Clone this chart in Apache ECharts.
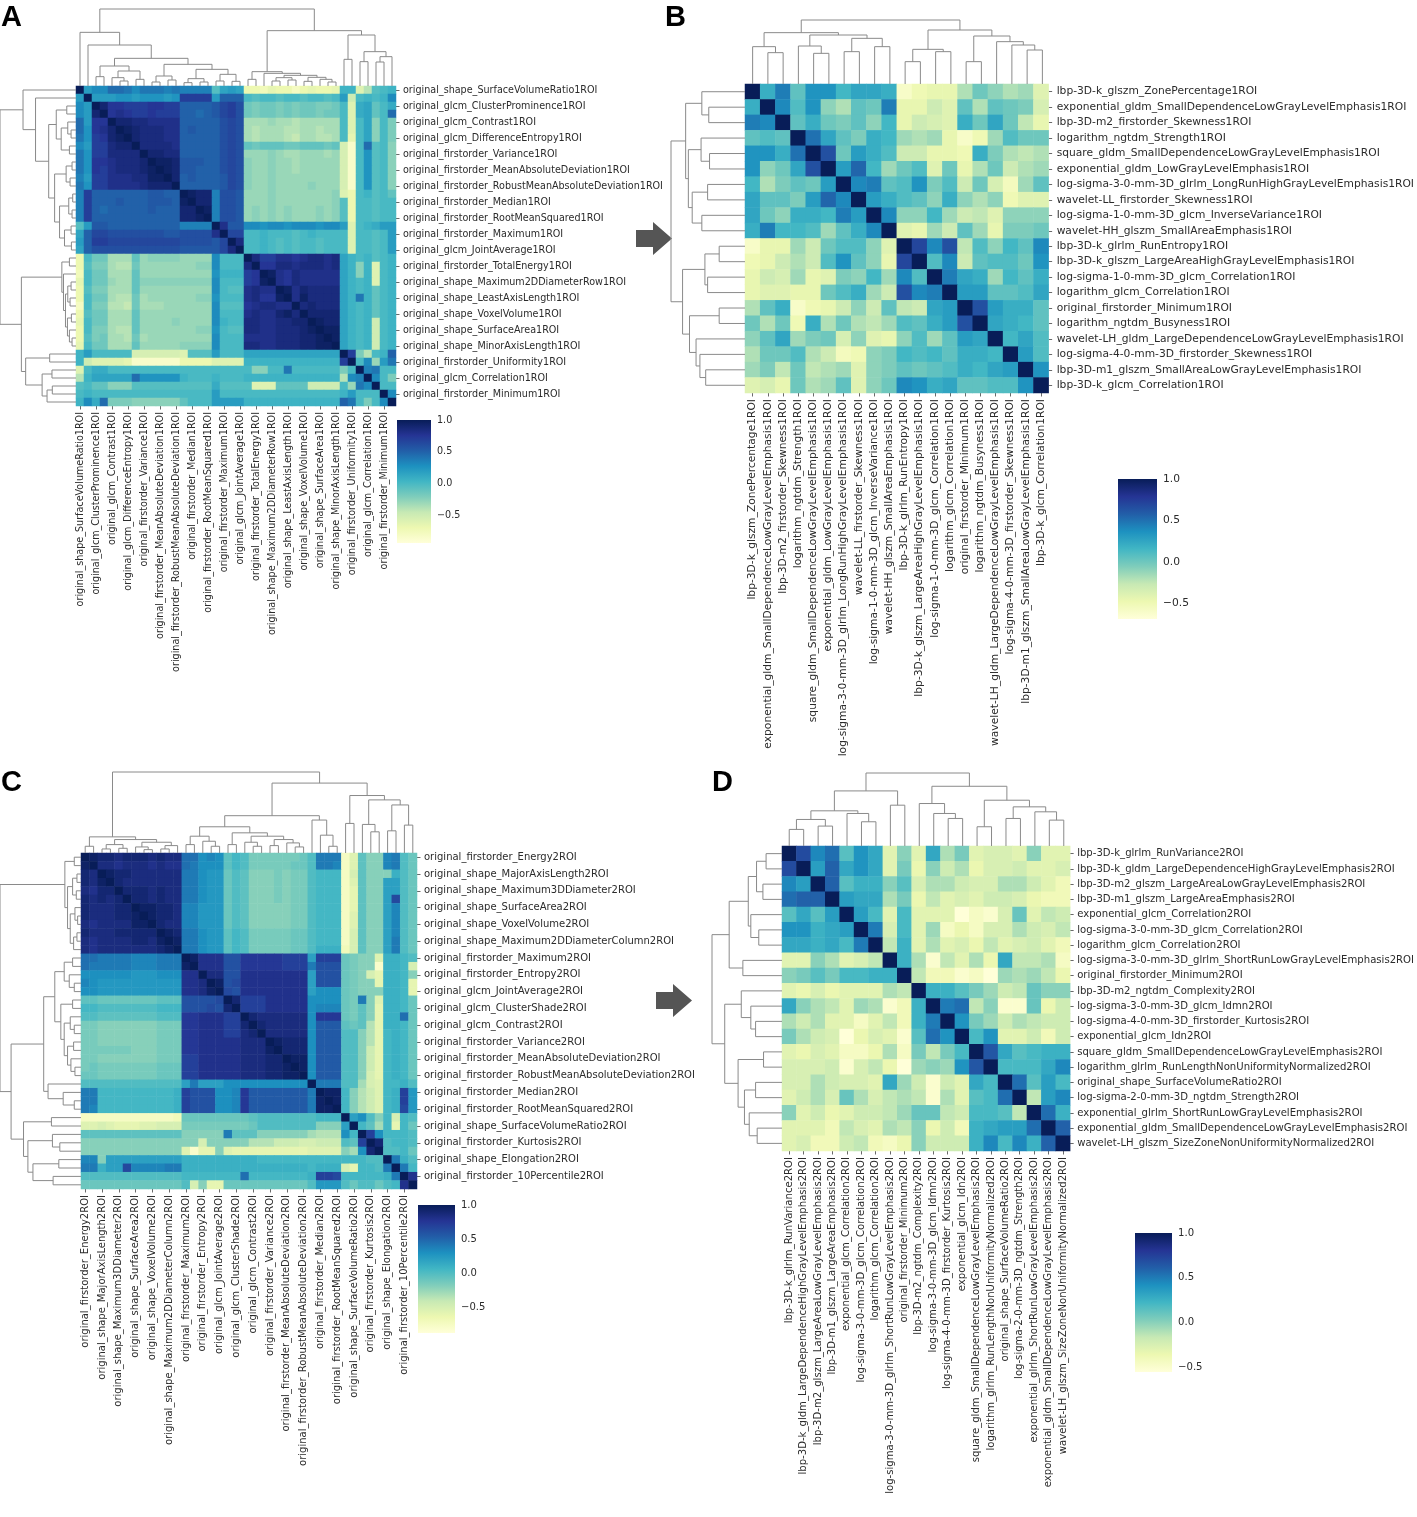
<!DOCTYPE html>
<html><head><meta charset="utf-8">
<script src="https://cdn.jsdelivr.net/npm/echarts/dist/echarts.min.js"></script>
<style>html,body{margin:0;padding:0;background:#fff}#c{width:1417px;height:1517px}</style>
</head><body><div id="c"></div>
<script>
const YLGNBU = ['#ffffd9','#edf8b1','#c7e9b4','#7fcdbb','#41b6c4','#1d91c0','#225ea8','#253494','#081d58'];
const colorbarTicks = [-0.5, 0, 0.5, 1.0];

// ---------- labels (A and C: one label every other row) ----------
const namesA = ['original_shape_SurfaceVolumeRatio1ROI','original_glcm_ClusterProminence1ROI','original_glcm_Contrast1ROI','original_glcm_DifferenceEntropy1ROI','original_firstorder_Variance1ROI','original_firstorder_MeanAbsoluteDeviation1ROI','original_firstorder_RobustMeanAbsoluteDeviation1ROI','original_firstorder_Median1ROI','original_firstorder_RootMeanSquared1ROI','original_firstorder_Maximum1ROI','original_glcm_JointAverage1ROI','original_firstorder_TotalEnergy1ROI','original_shape_Maximum2DDiameterRow1ROI','original_shape_LeastAxisLength1ROI','original_shape_VoxelVolume1ROI','original_shape_SurfaceArea1ROI','original_shape_MinorAxisLength1ROI','original_firstorder_Uniformity1ROI','original_glcm_Correlation1ROI','original_firstorder_Minimum1ROI'];
const namesB = ['lbp-3D-k_glszm_ZonePercentage1ROI','exponential_gldm_SmallDependenceLowGrayLevelEmphasis1ROI','lbp-3D-m2_firstorder_Skewness1ROI','logarithm_ngtdm_Strength1ROI','square_gldm_SmallDependenceLowGrayLevelEmphasis1ROI','exponential_gldm_LowGrayLevelEmphasis1ROI','log-sigma-3-0-mm-3D_glrlm_LongRunHighGrayLevelEmphasis1ROI','wavelet-LL_firstorder_Skewness1ROI','log-sigma-1-0-mm-3D_glcm_InverseVariance1ROI','wavelet-HH_glszm_SmallAreaEmphasis1ROI','lbp-3D-k_glrlm_RunEntropy1ROI','lbp-3D-k_glszm_LargeAreaHighGrayLevelEmphasis1ROI','log-sigma-1-0-mm-3D_glcm_Correlation1ROI','logarithm_glcm_Correlation1ROI','original_firstorder_Minimum1ROI','logarithm_ngtdm_Busyness1ROI','wavelet-LH_gldm_LargeDependenceLowGrayLevelEmphasis1ROI','log-sigma-4-0-mm-3D_firstorder_Skewness1ROI','lbp-3D-m1_glszm_SmallAreaLowGrayLevelEmphasis1ROI','lbp-3D-k_glcm_Correlation1ROI'];
const namesC = ['original_firstorder_Energy2ROI','original_shape_MajorAxisLength2ROI','original_shape_Maximum3DDiameter2ROI','original_shape_SurfaceArea2ROI','original_shape_VoxelVolume2ROI','original_shape_Maximum2DDiameterColumn2ROI','original_firstorder_Maximum2ROI','original_firstorder_Entropy2ROI','original_glcm_JointAverage2ROI','original_glcm_ClusterShade2ROI','original_glcm_Contrast2ROI','original_firstorder_Variance2ROI','original_firstorder_MeanAbsoluteDeviation2ROI','original_firstorder_RobustMeanAbsoluteDeviation2ROI','original_firstorder_Median2ROI','original_firstorder_RootMeanSquared2ROI','original_shape_SurfaceVolumeRatio2ROI','original_firstorder_Kurtosis2ROI','original_shape_Elongation2ROI','original_firstorder_10Percentile2ROI'];
const namesD = ['lbp-3D-k_glrlm_RunVariance2ROI','lbp-3D-k_gldm_LargeDependenceHighGrayLevelEmphasis2ROI','lbp-3D-m2_glszm_LargeAreaLowGrayLevelEmphasis2ROI','lbp-3D-m1_glszm_LargeAreaEmphasis2ROI','exponential_glcm_Correlation2ROI','log-sigma-3-0-mm-3D_glcm_Correlation2ROI','logarithm_glcm_Correlation2ROI','log-sigma-3-0-mm-3D_glrlm_ShortRunLowGrayLevelEmphasis2ROI','original_firstorder_Minimum2ROI','lbp-3D-m2_ngtdm_Complexity2ROI','log-sigma-3-0-mm-3D_glcm_Idmn2ROI','log-sigma-4-0-mm-3D_firstorder_Kurtosis2ROI','exponential_glcm_Idn2ROI','square_gldm_SmallDependenceLowGrayLevelEmphasis2ROI','logarithm_glrlm_RunLengthNonUniformityNormalized2ROI','original_shape_SurfaceVolumeRatio2ROI','log-sigma-2-0-mm-3D_ngtdm_Strength2ROI','exponential_glrlm_ShortRunLowGrayLevelEmphasis2ROI','exponential_gldm_SmallDependenceLowGrayLevelEmphasis2ROI','wavelet-LH_glszm_SizeZoneNonUniformityNormalized2ROI'];

// ---------- correlation values: row i lists columns i..n-1 (upper triangle) ----------
const corrA = [
[1.0,0.2,0.3,0.3,0.45,0.45,0.4,0.3,0.4,0.4,0.4,0.35,0.4,0.35,0.35,0.35,0.35,-0.05,0.15,0.2,0.15,-0.7,-0.7,-0.75,-0.65,-0.7,-0.7,-0.8,-0.7,-0.65,-0.7,-0.7,-0.65,0.05,0.05,-0.6,-0.4,-0.05,0.0,0.05],
[1.0,0.2,0.2,0.2,0.25,0.25,0.2,0.25,0.25,0.25,0.2,0.25,0.7,0.7,0.7,0.7,0.2,0.5,0.5,0.5,0.0,-0.05,0.0,0.0,-0.05,0.0,0.0,-0.05,0.0,0.0,-0.05,0.0,0.2,-0.5,0.0,0.05,0.0,0.05,0.3],
[1.0,0.9,0.75,0.75,0.7,0.7,0.7,0.75,0.75,0.7,0.7,0.5,0.5,0.5,0.5,0.55,0.65,0.7,0.6,-0.15,-0.2,-0.15,-0.15,-0.2,-0.15,-0.2,-0.15,-0.15,-0.2,-0.2,-0.15,0.0,-0.6,0.1,0.15,-0.1,0.0,0.1],
[1.0,0.75,0.8,0.75,0.7,0.7,0.75,0.7,0.7,0.7,0.5,0.5,0.45,0.5,0.55,0.65,0.7,0.6,-0.15,-0.2,-0.15,-0.15,-0.2,-0.15,-0.2,-0.15,-0.15,-0.2,-0.15,-0.15,0.0,-0.6,0.1,0.15,-0.1,0.0,0.45],
[1.0,0.9,0.9,0.85,0.85,0.8,0.8,0.8,0.8,0.5,0.5,0.5,0.5,0.5,0.6,0.65,0.6,-0.35,-0.35,-0.35,-0.3,-0.35,-0.35,-0.4,-0.35,-0.35,-0.35,-0.35,-0.35,0.0,-0.6,0.0,0.15,-0.25,0.0,-0.2],
[1.0,0.95,0.9,0.85,0.85,0.85,0.8,0.8,0.5,0.55,0.5,0.5,0.5,0.6,0.65,0.6,-0.35,-0.4,-0.35,-0.35,-0.35,-0.4,-0.4,-0.35,-0.35,-0.4,-0.35,-0.35,0.0,-0.6,0.0,0.15,-0.25,0.0,-0.2],
[1.0,0.9,0.85,0.85,0.85,0.8,0.8,0.5,0.5,0.5,0.5,0.5,0.6,0.65,0.6,-0.35,-0.4,-0.35,-0.35,-0.35,-0.4,-0.45,-0.35,-0.35,-0.4,-0.4,-0.35,0.0,-0.65,0.0,0.15,-0.25,0.0,-0.2],
[1.0,0.85,0.85,0.85,0.85,0.8,0.5,0.5,0.5,0.5,0.5,0.6,0.65,0.6,-0.1,-0.15,-0.1,-0.1,-0.1,-0.15,-0.15,-0.1,-0.1,-0.1,-0.15,-0.1,-0.55,-0.85,0.0,0.45,-0.05,0.0,-0.25],
[1.0,0.9,0.9,0.85,0.85,0.5,0.5,0.5,0.5,0.5,0.6,0.65,0.6,-0.3,-0.3,-0.3,-0.25,-0.3,-0.35,-0.35,-0.3,-0.3,-0.3,-0.35,-0.3,-0.55,-0.85,0.0,0.25,-0.05,0.0,-0.25],
[1.0,0.95,0.95,0.9,0.55,0.55,0.55,0.5,0.5,0.6,0.65,0.6,-0.25,-0.3,-0.3,-0.25,-0.3,-0.3,-0.35,-0.3,-0.3,-0.3,-0.3,-0.3,-0.55,-0.85,0.0,0.25,-0.05,0.0,-0.25],
[1.0,0.95,0.9,0.55,0.55,0.5,0.5,0.5,0.6,0.65,0.6,-0.25,-0.3,-0.3,-0.25,-0.3,-0.3,-0.35,-0.3,-0.3,-0.3,-0.3,-0.3,-0.55,-0.85,0.0,0.25,-0.05,0.0,-0.25],
[1.0,0.9,0.5,0.55,0.5,0.5,0.5,0.55,0.65,0.6,-0.25,-0.3,-0.3,-0.25,-0.3,-0.3,-0.3,-0.3,-0.3,-0.3,-0.3,-0.3,-0.55,-0.85,0.0,0.25,-0.05,0.0,-0.25],
[1.0,0.5,0.5,0.5,0.5,0.5,0.55,0.65,0.6,-0.25,-0.3,-0.3,-0.25,-0.3,-0.3,-0.3,-0.3,-0.25,-0.3,-0.3,-0.3,-0.55,-0.85,0.0,0.25,-0.05,0.0,-0.25],
[1.0,0.95,0.9,0.9,0.35,0.6,0.6,0.55,-0.3,-0.3,-0.3,-0.25,-0.3,-0.3,-0.3,-0.3,-0.3,-0.3,-0.3,-0.25,-0.6,-0.7,0.0,0.05,-0.05,0.0,-0.1],
[1.0,0.9,0.9,0.35,0.6,0.6,0.55,-0.3,-0.3,-0.3,-0.25,-0.3,-0.3,-0.3,-0.3,-0.3,-0.3,-0.3,-0.25,-0.05,-0.7,0.0,0.0,-0.05,0.0,0.0],
[1.0,0.95,0.35,0.6,0.6,0.55,-0.3,-0.25,-0.3,-0.25,-0.3,-0.25,-0.3,-0.3,-0.3,-0.25,-0.3,-0.25,-0.05,-0.7,0.0,0.0,-0.05,0.0,0.0],
[1.0,0.35,0.6,0.6,0.55,-0.3,-0.25,-0.3,-0.25,-0.3,-0.25,-0.3,-0.3,-0.3,-0.25,-0.3,-0.25,-0.05,-0.7,0.0,0.0,-0.05,0.0,0.0],
[1.0,0.8,0.55,0.55,0.3,0.3,0.25,0.3,0.3,0.25,0.3,0.3,0.3,0.25,0.3,0.3,0.2,-0.6,0.0,0.05,0.1,0.2,0.2],
[1.0,0.65,0.65,0.0,0.0,0.05,0.0,0.0,0.0,-0.05,0.0,0.05,0.0,0.0,0.0,0.0,-0.6,0.0,0.0,-0.05,0.0,0.2],
[1.0,0.85,0.0,0.0,0.05,0.0,-0.05,0.0,-0.05,0.0,0.0,-0.05,0.0,0.0,0.0,-0.6,0.0,0.0,-0.05,0.0,0.2],
[1.0,0.0,0.0,0.05,0.0,-0.05,0.0,-0.05,0.0,0.0,-0.05,0.0,0.0,0.0,-0.6,0.0,0.0,-0.05,0.0,0.2],
[1.0,0.85,0.7,0.7,0.8,0.8,0.75,0.8,0.85,0.85,0.8,0.85,0.15,0.05,0.0,0.05,-0.05,0.0,0.05],
[1.0,0.75,0.75,0.85,0.85,0.8,0.85,0.85,0.85,0.8,0.85,0.15,0.05,-0.25,0.05,-0.6,0.0,0.05],
[1.0,0.95,0.8,0.75,0.85,0.8,0.8,0.8,0.8,0.8,0.15,0.05,-0.25,0.05,-0.6,0.0,0.05],
[1.0,0.8,0.75,0.85,0.8,0.8,0.8,0.8,0.8,0.15,0.05,0.0,0.05,-0.6,0.0,0.05],
[1.0,0.95,0.8,0.9,0.85,0.85,0.85,0.85,0.15,0.05,0.0,0.05,-0.1,0.0,0.05],
[1.0,0.8,0.95,0.85,0.85,0.85,0.85,0.15,0.05,0.4,0.05,-0.1,0.0,0.05],
[1.0,0.85,0.9,0.85,0.85,0.85,0.15,0.05,0.0,0.05,-0.1,0.0,0.05],
[1.0,0.9,0.9,0.9,0.9,0.15,0.05,0.0,0.05,-0.1,0.0,0.05],
[1.0,0.95,0.9,0.9,0.15,0.05,0.0,0.05,-0.5,0.0,0.05],
[1.0,0.95,0.95,0.15,0.05,0.0,0.05,-0.5,0.0,0.05],
[1.0,0.95,0.15,0.05,0.0,0.05,-0.5,0.0,0.05],
[1.0,0.15,0.05,0.0,0.05,-0.5,0.0,0.05],
[1.0,0.7,-0.2,-0.4,0.0,0.05,0.5],
[1.0,0.0,0.3,-0.3,0.2,0.4],
[1.0,0.35,0.4,0.0,0.0],
[1.0,0.3,0.0,-0.2],
[1.0,0.0,0.0],
[1.0,0.3],
[1.0]
];
const corrB = [
[1,0.2,0.45,0.05,0.35,0.35,0.15,0.25,0.25,0.2,-0.6,-0.5,-0.45,-0.45,-0.2,0.0,-0.1,-0.2,-0.15,-0.4],
[1,0.4,0.1,0.35,-0.1,-0.2,0.05,0.0,0.45,-0.45,-0.45,-0.3,-0.4,0.05,-0.2,0.05,0.0,-0.05,-0.35],
[1,0.05,0.2,0.0,-0.05,0.05,-0.1,0.15,-0.45,-0.3,-0.35,-0.4,0.2,0.0,0.25,0.0,-0.25,-0.45],
[1,0.5,0.25,0.05,-0.05,0.2,0.15,-0.15,-0.2,-0.15,-0.45,-0.6,-0.5,-0.15,0.1,0.0,0.0],
[1,0.65,0.0,0.3,0.2,0.1,-0.3,-0.3,-0.45,-0.45,-0.5,0.2,-0.05,-0.2,-0.25,-0.2],
[1,0.3,0.55,0.15,-0.15,0.0,0.1,-0.4,0.0,-0.45,-0.2,0.0,-0.3,-0.2,-0.15],
[1,0.4,0.45,0.05,0.1,0.35,-0.05,0.1,-0.3,0.0,-0.35,-0.55,-0.15,0.05],
[1,0.3,0.2,0.1,0.05,-0.1,0.2,-0.1,-0.2,-0.1,-0.5,-0.4,-0.4],
[1,0.4,-0.1,-0.1,0.15,-0.15,-0.3,-0.25,-0.4,-0.1,-0.1,-0.1],
[1,-0.4,-0.45,-0.15,-0.3,0.05,-0.15,-0.45,-0.05,-0.05,0.0],
[1,0.7,0.4,0.65,-0.25,0.1,-0.1,0.15,0.05,0.4],
[1,0.1,0.4,-0.3,0.05,0.1,0.1,0.0,0.35],
[1,0.45,0.25,0.2,-0.15,0.15,0.05,0.2],
[1,0.3,0.3,0.05,0.05,0.1,0.25],
[1,0.65,0.3,0.2,0.2,0.05],
[1,0.25,0.2,0.15,0.05],
[1,0.15,0.25,0.1],
[1,0.3,0.1],
[1,0.35],
[1]
];
const corrC = [
[1.0,0.95,0.9,0.9,0.85,0.9,0.9,0.9,0.85,0.9,0.85,0.85,0.45,0.45,0.3,0.35,0.3,-0.05,0.05,0.0,-0.15,-0.15,-0.15,-0.15,-0.15,-0.15,-0.1,0.0,0.4,0.4,0.4,-0.75,-0.55,-0.05,-0.2,-0.2,0.35,0.4,0.0,-0.1],
[1.0,0.85,0.85,0.8,0.85,0.85,0.85,0.8,0.85,0.8,0.8,0.45,0.4,0.3,0.3,0.3,-0.05,0.05,0.0,-0.15,-0.15,-0.15,-0.15,-0.15,-0.1,-0.1,0.0,0.4,0.4,0.35,-0.75,-0.55,-0.05,-0.2,-0.2,0.35,0.4,0.0,-0.1],
[1.0,0.95,0.9,0.9,0.85,0.85,0.85,0.85,0.85,0.85,0.4,0.4,0.3,0.25,0.25,-0.1,0.0,-0.05,-0.2,-0.2,-0.2,-0.15,-0.2,-0.15,-0.15,0.0,0.05,0.05,0.05,-0.75,-0.5,-0.05,-0.2,-0.2,-0.2,0.1,0.0,-0.1],
[1.0,0.9,0.85,0.85,0.85,0.85,0.85,0.85,0.85,0.4,0.4,0.3,0.25,0.25,-0.1,0.0,-0.05,-0.2,-0.2,-0.2,-0.15,-0.2,-0.15,-0.15,0.0,0.05,0.05,0.05,-0.75,-0.55,-0.05,-0.2,-0.2,0.2,0.2,0.0,-0.1],
[1.0,0.9,0.9,0.9,0.85,0.9,0.85,0.85,0.4,0.4,0.3,0.25,0.25,-0.1,0.0,-0.05,-0.2,-0.2,-0.2,-0.15,-0.2,-0.15,-0.15,0.0,0.05,0.05,0.05,-0.75,-0.6,-0.05,-0.2,-0.2,0.2,0.2,0.0,-0.1],
[1.0,0.9,0.9,0.85,0.9,0.85,0.85,0.4,0.4,0.3,0.25,0.25,-0.1,0.0,-0.05,-0.2,-0.2,-0.2,-0.15,-0.2,-0.15,-0.15,0.0,0.05,0.05,0.05,-0.75,-0.6,-0.05,-0.2,-0.2,0.2,0.65,0.0,-0.1],
[1.0,0.95,0.95,0.9,0.9,0.85,0.35,0.35,0.25,0.25,0.25,-0.1,0.0,-0.05,-0.2,-0.2,-0.2,-0.2,-0.2,-0.15,-0.15,0.0,0.05,0.05,0.05,-0.75,-0.6,-0.05,-0.2,-0.2,0.2,0.35,0.0,-0.1],
[1.0,0.95,0.9,0.9,0.85,0.35,0.35,0.25,0.25,0.25,-0.1,0.0,-0.05,-0.2,-0.2,-0.2,-0.2,-0.2,-0.15,-0.15,0.0,0.05,0.05,0.05,-0.75,-0.55,-0.05,-0.2,-0.2,0.2,0.35,0.0,-0.1],
[1.0,0.9,0.85,0.85,0.35,0.35,0.25,0.25,0.25,-0.1,0.0,-0.05,-0.2,-0.2,-0.2,-0.2,-0.2,-0.15,-0.15,0.0,0.05,0.05,0.05,-0.75,-0.55,-0.05,-0.2,-0.2,0.2,0.35,0.0,-0.1],
[1.0,0.95,0.9,0.4,0.4,0.3,0.25,0.25,-0.05,0.05,0.0,-0.15,-0.15,-0.15,-0.15,-0.15,-0.1,-0.1,0.0,0.05,0.05,0.05,-0.75,-0.5,-0.05,-0.2,-0.2,0.2,0.35,0.0,-0.1],
[1.0,0.95,0.4,0.4,0.3,0.25,0.25,-0.05,0.05,0.0,-0.15,-0.15,-0.15,-0.15,-0.15,-0.1,-0.1,0.0,0.05,0.05,0.05,-0.75,-0.5,-0.05,-0.2,-0.2,0.2,0.4,0.0,-0.1],
[1.0,0.4,0.4,0.3,0.25,0.25,-0.05,0.05,0.0,-0.15,-0.15,-0.15,-0.15,-0.15,-0.1,-0.1,0.0,0.1,0.1,0.1,-0.7,-0.5,-0.05,-0.2,-0.2,0.2,0.4,0.0,-0.1],
[1.0,0.95,0.8,0.8,0.8,0.6,0.6,0.75,0.75,0.75,0.75,0.75,0.7,0.7,0.7,0.2,0.7,0.7,0.7,-0.1,-0.15,-0.2,-0.2,-0.55,0.1,0.1,0.05,0.0],
[1.0,0.8,0.8,0.8,0.6,0.6,0.75,0.75,0.75,0.75,0.75,0.7,0.7,0.7,0.4,0.6,0.6,0.6,-0.1,-0.15,-0.2,-0.2,-0.8,0.1,0.1,0.05,-0.5],
[1.0,0.85,0.85,0.6,0.6,0.8,0.8,0.8,0.8,0.8,0.8,0.8,0.8,0.2,0.6,0.6,0.6,-0.1,-0.15,-0.2,-0.5,-0.6,0.1,0.1,0.05,-0.2],
[1.0,0.95,0.6,0.65,0.8,0.8,0.8,0.8,0.8,0.8,0.8,0.8,0.2,0.6,0.6,0.6,-0.1,-0.15,-0.2,-0.2,-0.6,0.1,0.1,0.05,-0.6],
[1.0,0.65,0.6,0.8,0.8,0.8,0.8,0.8,0.8,0.8,0.8,0.2,0.3,0.3,0.3,-0.1,-0.15,-0.2,-0.2,-0.2,0.1,0.1,0.05,-0.6],
[1.0,0.9,0.7,0.7,0.7,0.8,0.8,0.8,0.8,0.8,0.3,0.3,0.3,0.3,-0.1,-0.15,0.4,-0.2,-0.55,0.1,0.1,0.05,-0.1],
[1.0,0.7,0.7,0.7,0.8,0.8,0.8,0.8,0.8,0.3,0.35,0.35,0.35,-0.1,-0.15,-0.05,-0.2,-0.6,0.1,0.1,0.05,-0.1],
[1.0,0.9,0.85,0.85,0.85,0.85,0.85,0.85,0.3,0.75,0.75,0.75,-0.1,-0.15,-0.05,-0.2,-0.6,0.1,0.1,0.45,-0.1],
[1.0,0.9,0.85,0.85,0.85,0.85,0.85,0.3,0.55,0.55,0.55,-0.05,-0.1,-0.05,-0.35,-0.6,0.1,0.1,0.05,-0.1],
[1.0,0.85,0.85,0.85,0.85,0.85,0.3,0.55,0.55,0.55,0.0,0.0,-0.2,-0.35,-0.6,0.05,0.1,0.05,-0.1],
[1.0,0.95,0.9,0.9,0.9,0.3,0.55,0.55,0.55,0.0,0.0,-0.2,-0.35,-0.6,0.05,0.1,0.05,-0.1],
[1.0,0.9,0.9,0.9,0.3,0.55,0.55,0.55,0.0,0.0,-0.2,-0.45,-0.6,0.05,0.1,0.05,-0.1],
[1.0,0.95,0.95,0.3,0.55,0.55,0.55,0.0,0.0,-0.2,-0.45,-0.6,0.05,0.1,0.05,-0.1],
[1.0,0.95,0.3,0.55,0.55,0.55,0.0,0.0,-0.2,-0.45,-0.6,0.05,0.1,0.05,-0.1],
[1.0,0.3,0.55,0.55,0.55,0.0,0.0,-0.2,-0.5,-0.6,0.05,0.1,0.05,-0.1],
[1.0,0.4,0.4,0.4,0.0,0.0,-0.3,-0.5,-0.55,0.05,0.05,0.1,0.0],
[1.0,0.95,0.95,0.05,-0.2,-0.35,-0.45,-0.55,0.05,0.1,0.7,0.25],
[1.0,0.95,0.05,-0.2,-0.35,-0.45,-0.55,0.05,0.1,0.7,0.25],
[1.0,0.05,-0.2,-0.35,-0.45,-0.55,0.05,0.1,0.65,0.25],
[1.0,0.2,0.3,0.0,-0.2,0.05,-0.5,0.05,0.0],
[1.0,0.05,-0.05,-0.3,0.05,-0.6,0.05,-0.1],
[1.0,0.7,0.3,0.05,0.05,0.05,0.0],
[1.0,0.9,0.0,0.05,0.05,0.0],
[1.0,0.0,0.0,0.05,-0.1],
[1.0,0.4,0.1,0.0],
[1.0,0.4,0.05],
[1.0,0.8],
[1.0]
];
const corrD = [
[1,0.7,0.45,0.55,0.15,0.4,0.3,-0.3,0.0,-0.3,0.3,-0.1,0.05,-0.3,-0.25,-0.25,-0.3,0.0,-0.3,-0.3],
[1,0.35,0.6,0.3,0.4,0.3,-0.3,0.05,-0.35,0.0,-0.2,-0.1,-0.35,-0.25,-0.25,-0.2,-0.3,-0.3,-0.25],
[1,0.6,0.15,0.25,0.25,0.0,0.15,-0.25,-0.1,-0.1,-0.2,-0.25,-0.25,-0.1,-0.1,-0.2,-0.3,-0.4],
[1,0.35,0.3,0.3,-0.1,0.05,-0.35,-0.15,-0.3,-0.25,-0.3,-0.2,-0.2,-0.25,-0.35,-0.4,-0.4],
[1,0.35,0.2,-0.3,0.2,-0.3,-0.3,-0.3,-0.55,-0.45,-0.5,-0.25,0.1,-0.3,-0.15,-0.2],
[1,0.5,-0.25,0.2,-0.3,-0.05,-0.45,-0.35,-0.45,-0.25,-0.25,-0.1,-0.2,-0.25,-0.15],
[1,-0.15,0.25,-0.3,-0.1,-0.3,-0.25,-0.35,-0.15,-0.3,-0.25,-0.2,-0.3,-0.4],
[1,0.25,-0.1,-0.5,-0.15,-0.3,-0.1,-0.35,0.3,-0.15,-0.15,-0.1,-0.45],
[1,-0.15,-0.4,-0.4,-0.5,-0.45,-0.55,-0.05,-0.1,-0.05,-0.15,-0.35],
[1,0.25,0.25,0.15,0.05,-0.05,-0.2,-0.15,0.1,0.0,0.0],
[1,0.5,0.55,-0.15,0.0,-0.5,-0.5,0.1,-0.35,-0.2],
[1,0.4,0.05,-0.05,-0.2,-0.1,-0.15,-0.2,-0.2],
[1,0.2,0.4,-0.3,-0.3,-0.2,-0.4,-0.2],
[1,0.65,0.3,0.15,0.2,0.25,0.25],
[1,0.2,0.2,0.2,0.3,0.45],
[1,0.55,0.15,0.35,0.2],
[1,-0.15,0.35,0.45],
[1,0.55,0.25],
[1,0.6],
[1]
];

// ---------- dendrogram trees: [mergeHeight, left, right], leaves = row index ----------
const treeA = [231,
  [161, 0, [123, 1, [83,
    [60, [28, 2, 3], [45, [25, 4, [15, 5, 6]], [20, 7, 8]]],
    [65, [30, [12, 9, 10], [18, 11, 12]], [50, [22, [10, 13, 14], [12, 15, 16]], [35, [15, 17, 18], [14, 19, 20]]]]]]],
  [166,
    [43, [20, 21, 22], [38, 23, [32, [25, [15, 24, 25], [18, 26, 27]], [26, [14, 28, 29], [20, 30, [12, 31, 32]]]]]],
    [153, [80, 33, 34], [103, [73, 35, 36], [88, [72, 37, 38], 39]]]]];
const treeB = [192,
  [154, [112, 0, [94, 1, 2]], [147, [114, 3, [92, 4, 5]], [137, [97, 6, 7], [112, 8, 9]]]],
  [162, [104, [67, 10, 11], [97, 12, 13]], [144, [67, 14, 15], [127, 16, [117, 17, [102, 18, 19]]]]]];
const treeC = [241,
  [48, [20, 0, 1], [40, [25, [12, 2, 3], [14, 4, 5]], [32, [18, 6, [10, 7, 8]], [22, [12, 9, 10], 11]]]],
  [208,
    [111,
      [78, [50, [25, 12, 13], [35, 14, [20, 15, 16]]], [60, [25, 17, 18], [50, [32, 19, [20, 20, 21]], [40, [22, 22, 23], [30, 24, [18, 25, 26]]]]]],
      [98, 27, [53, 28, [20, 29, 30]]]],
    [171, [88, 31, 32], [158, [85, 33, [63, 34, 35]], [143, [66, 36, 37], [83, 38, 39]]]]]];
const treeD = [220,
  [166, [106, [80, [50, 0, 1], [60, 2, 3]], [98, 4, [73, 5, 6]]], [123, 7, 8]],
  [180, [128, 9, [98, 10, [83, 11, 12]]], [138, [58, 13, 14], [118, [83, 15, 16], [103, 17, [78, 18, 19]]]]]];

// ---------- layout (pixels) ----------
const panels = [
  {letter:'A', lx:1, ly:3, names:namesA, step:2, corr:corrA, tree:treeA, vmin:-0.94, font:9.6, ym:7,
   heat:[76,86,320,320], top:[76,9,320,77], side:[-1,86,77,320], bar:[397,420,34,123]},
  {letter:'B', lx:665, ly:3, names:namesB, step:1, corr:corrB, tree:treeB, vmin:-0.69, font:10.7, ym:8,
   heat:[745,84,305,309], top:[745,20,305,64], side:[671,84,74,309], bar:[1118,479,39,140]},
  {letter:'C', lx:1, ly:768, names:namesC, step:2, corr:corrC, tree:treeC, vmin:-0.88, font:10, ym:7,
   heat:[81,853,336,336], top:[81,772,336,81], side:[0,853,81,336], bar:[418,1205,37,128]},
  {letter:'D', lx:712, ly:768, names:namesD, step:1, corr:corrD, tree:treeD, vmin:-0.555, font:10.1, ym:7,
   heat:[782,846,289,305], top:[782,773,289,73], side:[712,846,70,305], bar:[1135,1233,37,139]}
];

function fullMatrix(upper){
  const n = upper.length, M = [];
  for (let i = 0; i < n; i++) M.push(new Array(n));
  for (let i = 0; i < n; i++) for (let j = i; j < n; j++) { M[i][j] = upper[i][j - i]; M[j][i] = upper[i][j - i]; }
  return M;
}
function treeLinks(tree){
  const out = [];
  (function walk(node){
    if (typeof node === 'number') return {x: node + 0.5, h: 0};
    const a = walk(node[1]), b = walk(node[2]);
    out.push([a.x, a.h, b.x, b.h, node[0]]);
    return {x: (a.x + b.x) / 2, h: node[0]};
  })(tree);
  return out;
}
function dendroRender(orient){
  return function(params, api){
    const x1 = api.value(0), h1 = api.value(1), x2 = api.value(2), h2 = api.value(3), h = api.value(4);
    const c = orient === 'top' ? (p, q) => api.coord([p, q]) : (p, q) => api.coord([q, p]);
    return {type:'polyline', silent:true,
      shape:{points:[c(x1, h1), c(x1, h), c(x2, h), c(x2, h2)]},
      style:{stroke:'#8a8a8a', fill:null, lineWidth:1}};
  };
}
const FONT = 'DejaVu Sans', TXT = '#2b2b2b';
const grid = [], xAxis = [], yAxis = [], series = [], visualMap = [], graphic = [];
function addGrid(r){ grid.push({left:r[0], top:r[1], width:r[2], height:r[3], show:false}); return grid.length - 1; }

panels.forEach(p => {
  const n = p.corr.length, M = fullMatrix(p.corr);
  const cats = Array.from({length:n}, (_, i) => String(i));
  const lab = v => { const i = +v; return i % p.step === 0 ? p.names[i / p.step] : ''; };
  let g = addGrid(p.heat);
  const common = {type:'category', gridIndex:g, data:cats, axisLine:{show:false}, splitLine:{show:false},
    axisTick:{show:true, alignWithLabel:true, interval:p.step - 1, length:3.5, lineStyle:{color:'#444', width:0.8}}};
  xAxis.push(Object.assign({}, common, {position:'bottom',
    axisLabel:{interval:p.step - 1, rotate:90, fontSize:p.font, fontFamily:FONT, color:TXT, margin:6, formatter:lab}}));
  yAxis.push(Object.assign({}, common, {position:'right', inverse:true,
    axisLabel:{interval:p.step - 1, fontSize:p.font, fontFamily:FONT, color:TXT, margin:p.ym, formatter:lab}}));
  const data = [];
  for (let i = 0; i < n; i++) for (let j = 0; j < n; j++) data.push([j, i, M[i][j]]);
  visualMap.push({type:'continuous', show:false, min:p.vmin, max:1, dimension:2, seriesIndex:series.length, inRange:{color:YLGNBU}});
  series.push({type:'heatmap', xAxisIndex:g, yAxisIndex:g, data:data, silent:true, emphasis:{disabled:true}, itemStyle:{borderWidth:0}, progressive:0});
  const links = treeLinks(p.tree), H = p.tree[0];
  g = addGrid(p.top);
  xAxis.push({type:'value', gridIndex:g, min:0, max:n, show:false});
  yAxis.push({type:'value', gridIndex:g, min:0, max:H, show:false});
  series.push({type:'custom', xAxisIndex:g, yAxisIndex:g, data:links, renderItem:dendroRender('top'), silent:true, clip:false});
  g = addGrid(p.side);
  xAxis.push({type:'value', gridIndex:g, min:0, max:H, inverse:true, show:false});
  yAxis.push({type:'value', gridIndex:g, min:0, max:n, inverse:true, show:false});
  series.push({type:'custom', xAxisIndex:g, yAxisIndex:g, data:links, renderItem:dendroRender('left'), silent:true, clip:false});
  g = addGrid(p.bar);
  xAxis.push({type:'value', gridIndex:g, min:0, max:1, show:false});
  yAxis.push({type:'value', gridIndex:g, min:p.vmin, max:1, position:'right', splitLine:{show:false}, axisLine:{show:false},
    axisTick:{show:true, length:3.5, customValues:colorbarTicks, lineStyle:{color:'#444', width:0.8}},
    axisLabel:{show:true, customValues:colorbarTicks, fontSize:p.font, fontFamily:FONT, color:TXT, margin:6,
      formatter: v => (v < 0 ? '\u2212' : '') + Math.abs(v).toFixed(1)}});
  graphic.push({type:'rect', silent:true, z:1,
    shape:{x:p.bar[0], y:p.bar[1], width:p.bar[2], height:p.bar[3]},
    style:{fill:new echarts.graphic.LinearGradient(0, 1, 0, 0, YLGNBU.map((c, i) => ({offset:i / (YLGNBU.length - 1), color:c})))}});
  graphic.push({type:'text', left:p.lx, top:p.ly, silent:true,
    style:{text:p.letter, font:'bold 29px "Liberation Sans", Arial, sans-serif', fill:'#000'}});
});
graphic.push({type:'polygon', silent:true, shape:{points:[[636,230],[653,230],[653,222],[672,238.5],[653,255],[653,247],[636,247]]}, style:{fill:'#555555'}});
graphic.push({type:'polygon', silent:true, shape:{points:[[656,992],[673,992],[673,984],[692,1000.5],[673,1017],[673,1009],[656,1009]]}, style:{fill:'#555555'}});

const chart = echarts.init(document.getElementById('c'), null, {renderer:'canvas'});
chart.setOption({animation:false, backgroundColor:'#ffffff', grid, xAxis, yAxis, visualMap, series, graphic});
</script></body></html>
